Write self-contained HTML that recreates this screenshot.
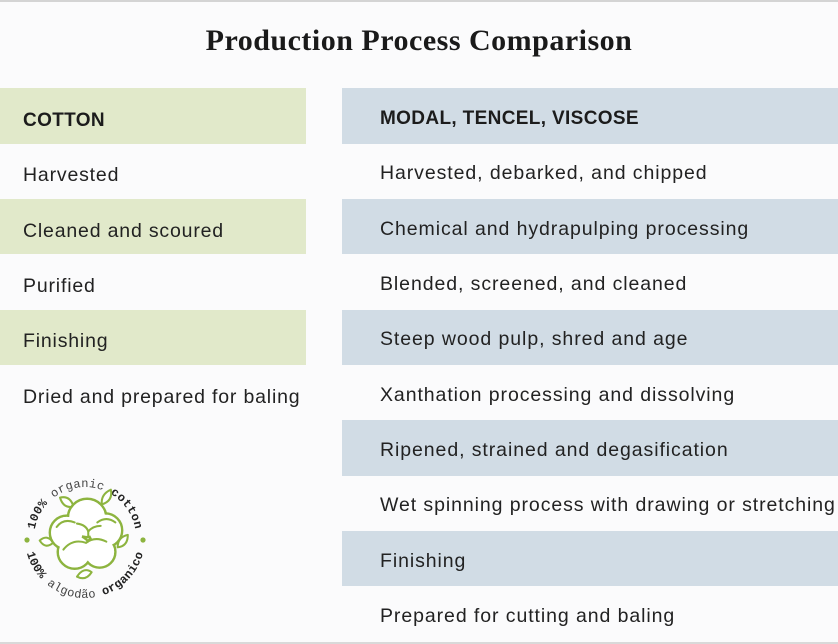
<!DOCTYPE html>
<html>
<head>
<meta charset="utf-8">
<style>
  html,body{margin:0;padding:0;}
  body{width:838px;height:644px;position:relative;overflow:hidden;background:#fbfbfc;
       font-family:"Liberation Sans",Arial,sans-serif;color:#222;}
  .topline{position:absolute;left:0;top:0;width:838px;height:2px;background:#d4d4d4;}
  .botline{position:absolute;left:0;top:642px;width:838px;height:2px;background:#d9d9d9;}
  .title{position:absolute;left:0;top:23px;width:838px;text-align:center;
         font-family:"Liberation Serif",serif;font-weight:bold;font-size:30px;letter-spacing:0.5px;
         color:#1a1a1a;line-height:36px;}
  .row{position:absolute;height:55.33px;box-sizing:border-box;line-height:55px;
       font-size:19.5px;letter-spacing:0.82px;white-space:nowrap;color:#222;}
  .l{left:0;width:306px;padding-left:23px;padding-top:4.6px;}
  .r{left:342px;width:496px;padding-left:38px;padding-top:2.8px;letter-spacing:0.92px;}
  .g{background:#e1e9ca;}
  .b{background:#d1dce5;}
  .h{font-weight:bold;font-size:19px;letter-spacing:0.35px;color:#1c1c1c;}
</style>
</head>
<body>
<div class="topline"></div>
<div class="title">Production Process Comparison</div>

<div class="row l g h" style="top:88.3px">COTTON</div>
<div class="row l" style="top:143.6px">Harvested</div>
<div class="row l g" style="top:199px">Cleaned and scoured</div>
<div class="row l" style="top:254.3px">Purified</div>
<div class="row l g" style="top:309.6px">Finishing</div>
<div class="row l" style="top:365px">Dried and prepared for baling</div>

<div class="row r b h" style="top:88.3px">MODAL, TENCEL, VISCOSE</div>
<div class="row r" style="top:143.6px">Harvested, debarked, and chipped</div>
<div class="row r b" style="top:199px">Chemical and hydrapulping processing</div>
<div class="row r" style="top:254.3px">Blended, screened, and cleaned</div>
<div class="row r b" style="top:309.6px">Steep wood pulp, shred and age</div>
<div class="row r" style="top:365px">Xanthation processing and dissolving</div>
<div class="row r b" style="top:420.3px">Ripened, strained and degasification</div>
<div class="row r" style="top:475.6px">Wet spinning process with drawing or stretching</div>
<div class="row r b" style="top:531px">Finishing</div>
<div class="row r" style="top:586.3px">Prepared for cutting and baling</div>

<svg style="position:absolute;left:0;top:0" width="838" height="644" viewBox="0 0 838 644">
  <defs>
    <path id="arcTop" d="M 34 538 A 51 51 0 0 1 136 538"/>
    <path id="arcBot" d="M 25 538 A 60 60 0 0 0 145 538"/>
  </defs>
  <g font-family="Liberation Mono, monospace" font-size="12" letter-spacing="0.3">
    <text fill="#444"><textPath href="#arcTop" startOffset="50%" text-anchor="middle"><tspan font-weight="bold" fill="#222">100%</tspan> organic <tspan font-weight="bold" fill="#222">cotton</tspan></textPath></text>
    <text fill="#444"><textPath href="#arcBot" startOffset="50%" text-anchor="middle"><tspan font-weight="bold" fill="#222">100%</tspan> algodão <tspan font-weight="bold" fill="#222">organico</tspan></textPath></text>
  </g>
  <circle cx="27" cy="540" r="2.6" fill="#8db43f"/>
  <circle cx="143" cy="540" r="2.6" fill="#8db43f"/>
  <g transform="translate(86 536) scale(1.13) translate(-86 -536)">
  <g fill="#fff" stroke="#8db43f" stroke-width="1.8" stroke-linejoin="round">
    <path d="M 63 502 Q 72 500 75 510 Q 66 512 63 502 Z"/>
    <path d="M 108 495 Q 110 505 100 508 Q 99 499 108 495 Z"/>
    <path d="M 45 540 Q 52 534 57 542 Q 50 548 45 540 Z"/>
    <path d="M 123 535 Q 123 545 114 546 Q 114 537 123 535 Z"/>
    <path d="M 78 572 Q 84 563 91 568 Q 86 576 78 572 Z"/>
  </g>
  <g fill="none" stroke="#8db43f" stroke-width="2.2">
    <circle cx="87" cy="520" r="17"/>
    <circle cx="69" cy="533" r="15"/>
    <circle cx="103" cy="531" r="15"/>
    <circle cx="76" cy="550" r="15"/>
    <circle cx="98" cy="550" r="14"/>
  </g>
  <g fill="#fff" stroke="none">
    <circle cx="87" cy="520" r="15.9"/>
    <circle cx="69" cy="533" r="13.9"/>
    <circle cx="103" cy="531" r="13.9"/>
    <circle cx="76" cy="550" r="13.9"/>
    <circle cx="98" cy="550" r="12.9"/>
  </g>
  <g fill="none" stroke="#8db43f" stroke-width="1.8" stroke-linecap="round">
    <path d="M 60 528 Q 66 520 76 524"/>
    <path d="M 96 524 Q 104 518 112 524"/>
    <path d="M 78 525 Q 86 526 88 532 Q 92 527 99 527"/>
    <path d="M 88 532 L 88 537"/>
    <path d="M 66 548 Q 74 538 86 542"/>
    <path d="M 86 542 Q 94 536 104 541"/>
  </g>
  </g>
</svg>
<div class="botline"></div>
</body>
</html>
